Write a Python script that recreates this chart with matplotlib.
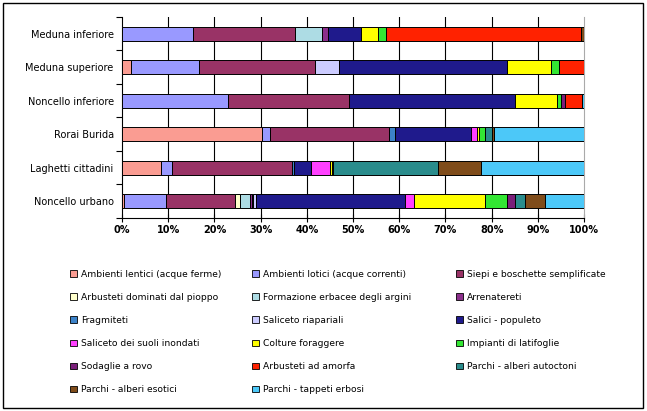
import numpy as np
import matplotlib
matplotlib.use("Agg")
import matplotlib.pyplot as plt
from matplotlib.patches import Rectangle, Patch

# --- Data (percent of each site) ---
sites = ["Meduna inferiore", "Meduna superiore", "Noncello inferiore",
         "Rorai Burida", "Laghetti cittadini", "Noncello urbano"]

classes = ["Ambienti lentici (acque ferme)", "Ambienti lotici (acque correnti)",
           "Siepi e boschette semplificate", "Arbusteti dominati dal pioppo",
           "Formazione erbacee degli argini", "Arrenatereti", "Fragmiteti",
           "Saliceto riapariali", "Salici - populeto", "Saliceto dei suoli inondati",
           "Colture foraggere", "Impianti di latifoglie", "Sodaglie a rovo",
           "Arbusteti ad amorfa", "Parchi - alberi autoctoni",
           "Parchi - alberi esotici", "Parchi - tappeti erbosi"]

colors = ["#FA9C92", "#9999FF", "#993366", "#FFFFCC", "#ADDCE4", "#8B2F8B",
          "#3C82C8", "#CCCCFF", "#1F1A8C", "#FF40FF", "#FFFF00", "#33E633",
          "#7A1F7A", "#FF2200", "#2A8C8C", "#7F4C1A", "#4CC8F8"]

meduna_inf = [0, 15.4, 22.0, 0, 5.9, 1.3, 0, 0, 7.2, 0, 3.6, 1.7, 0, 42.2, 0, 0.7, 0]
meduna_sup = [2.0, 14.7, 25.1, 0, 0, 0, 0, 5.2, 36.4, 0, 9.5, 1.7, 0, 5.4, 0, 0, 0]
noncello_inf = [0, 22.9, 26.2, 0, 0, 0, 0, 0, 36.0, 0, 9.1, 0.9, 0.8, 3.6, 0, 0, 0.5]
rorai = [30.2, 1.8, 25.7, 0, 0, 0, 1.3, 0, 16.6, 1.2, 0.4, 1.4, 0, 0, 1.4, 0.6, 19.4]
laghetti = [8.4, 2.4, 26.0, 0, 0, 0, 0.4, 0, 3.8, 4.0, 0.4, 0, 0.3, 0, 22.7, 9.2, 22.4]
noncello_urb = [0.4, 9.1, 15.0, 1.0, 2.3, 0.3, 0.3, 0.5, 32.4, 1.9, 15.4, 4.7, 1.7, 0, 2.3, 4.2, 8.5]

data = np.array([meduna_inf, meduna_sup, noncello_inf, rorai, laghetti, noncello_urb])
data = data / data.sum(axis=1, keepdims=True) * 100

# --- Figure ---
fig = plt.figure(figsize=(6.47, 4.11), dpi=100)
ax = fig.add_axes([122 / 647, 1 - 218 / 411, 462 / 647, 201 / 411])

y = np.arange(len(sites))
left = np.zeros(len(sites))
for j in range(len(classes)):
    ax.barh(y, data[:, j], left=left, height=0.42, color=colors[j],
            edgecolor="black", linewidth=0.7, zorder=3)
    left += data[:, j]

ax.set_xlim(0, 100)
ax.set_ylim(len(sites) - 0.5, -0.5)
ax.set_xticks(np.arange(0, 101, 10))
ax.set_xticklabels([f"{v}%" for v in range(0, 101, 10)], fontsize=7, fontweight="bold")
ax.set_yticks(y)
ax.set_yticklabels(sites, fontsize=7)
ax.set_yticks(np.arange(-0.5, len(sites), 1), minor=True)
ax.tick_params(axis="y", which="major", length=0, pad=6)
ax.tick_params(axis="y", which="minor", length=4, direction="out", width=0.8)
ax.tick_params(axis="x", length=6, direction="inout", width=0.8, pad=2)

for v in range(10, 100, 10):
    ax.axvline(v, color="black", lw=0.8, zorder=1)

ax.spines["top"].set_visible(False)
ax.spines["right"].set_color("#aaaaaa")
ax.spines["left"].set_linewidth(0.8)
ax.spines["bottom"].set_linewidth(0.8)

# legend: 3 columns filled row by row, one legend per column
handles = [Patch(facecolor=c, edgecolor="black", linewidth=0.6) for c in colors]
col_x = [70, 252, 456]
for k, x0 in enumerate(col_x):
    idx = list(range(k, len(classes), 3))
    leg = fig.legend([handles[i] for i in idx], [classes[i] for i in idx],
                     loc="upper left", bbox_to_anchor=(x0 / 647, 1 - 270 / 411),
                     frameon=False, fontsize=6.6, handlelength=0.75,
                     handleheight=0.75, handletextpad=0.45, labelspacing=1.53,
                     borderpad=0, borderaxespad=0)

fig.patches.append(Rectangle((3 / 647, 3 / 411), 640 / 647, 405 / 411,
                             transform=fig.transFigure, fill=False,
                             edgecolor="black", linewidth=1))

fig.savefig("out.png", dpi=100)
